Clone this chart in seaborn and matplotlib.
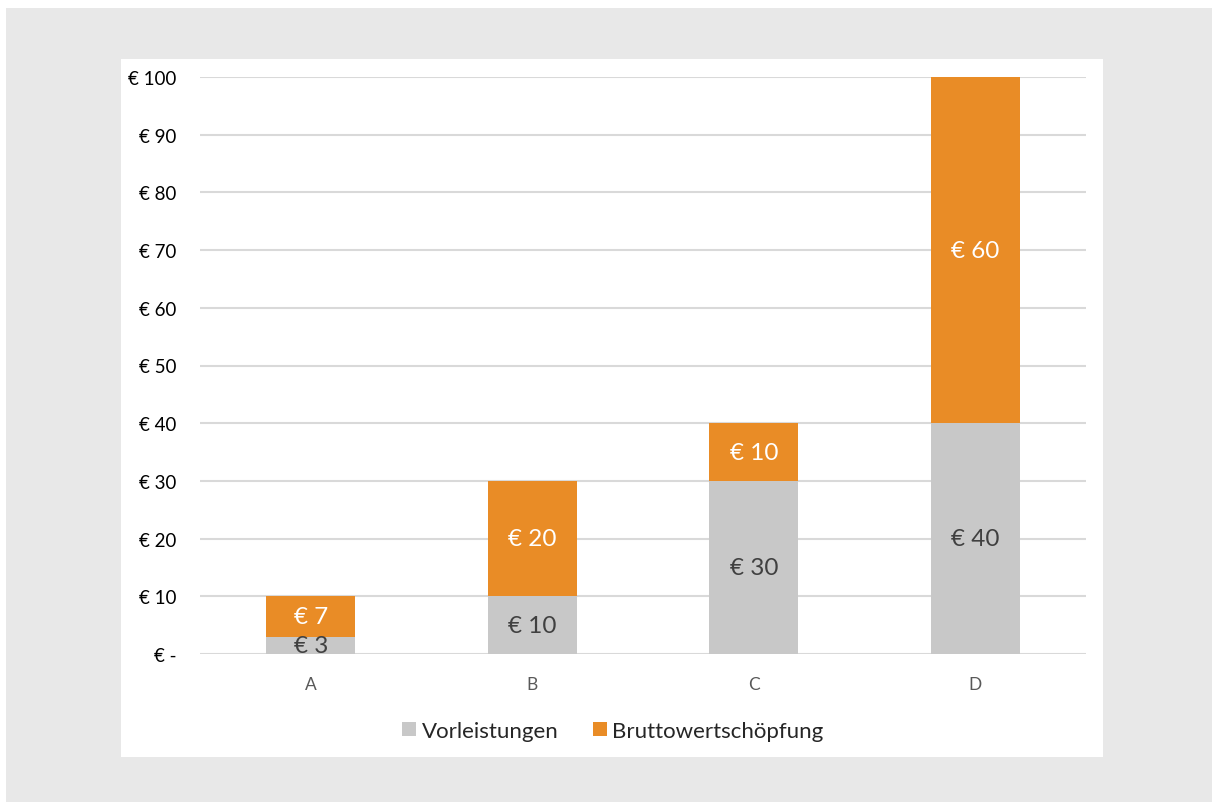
import matplotlib
matplotlib.use("Agg")
import matplotlib.pyplot as plt
import seaborn as sns
import pandas as pd
from matplotlib.patches import Rectangle, Patch

categories = ["A", "B", "C", "D"]
vorleistungen = [3, 10, 30, 40]
bruttowertschoepfung = [7, 20, 10, 60]
y_ticks = [0, 10, 20, 30, 40, 50, 60, 70, 80, 90, 100]
y_tick_labels = ["€ -", "€ 10", "€ 20", "€ 30", "€ 40", "€ 50", "€ 60", "€ 70", "€ 80", "€ 90", "€ 100"]
series_names = ["Vorleistungen", "Bruttowertschöpfung"]

GRAY = "#C8C8C8"
ORANGE = "#E98C26"
FONT = ["Lato", "DejaVu Sans"]

sns.set_theme(style="white")
plt.rcParams["font.family"] = FONT

W, H = 1212, 803
fig = plt.figure(figsize=(W / 100, H / 100), dpi=100, facecolor="white")
fig.add_artist(Rectangle((6 / W, 0), 1 - 6 / W, 1 - 9 / H, transform=fig.transFigure,
                         facecolor="#E8E8E8", edgecolor="none", zorder=-10))
fig.add_artist(Rectangle((121 / W, 1 - 758 / H), (1103 - 121) / W, (758 - 60) / H,
                         transform=fig.transFigure, facecolor="white", edgecolor="none", zorder=-9))

ax = fig.add_axes([200 / W, 1 - 655 / H, (1086 - 200) / W, (655 - 78) / H])
ax.set_facecolor("none")

df = pd.DataFrame({
    "cat": categories,
    "vor": vorleistungen,
    "brutto": bruttowertschoepfung,
})
df["total"] = df["vor"] + df["brutto"]

sns.barplot(data=df, x="cat", y="total", color=ORANGE, width=0.4, saturation=1, ax=ax,
            zorder=3, linewidth=0, edgecolor="none")
sns.barplot(data=df, x="cat", y="vor", color=GRAY, width=0.4, saturation=1, ax=ax,
            zorder=4, linewidth=0, edgecolor="none")

for i, (v, b) in enumerate(zip(vorleistungen, bruttowertschoepfung)):
    ax.text(i, v / 2, f"€ {v}", ha="center", va="center", color="#404040", fontsize=17.5, zorder=6)
    ax.text(i, v + b / 2, f"€ {b}", ha="center", va="center", color="white", fontsize=17.5, zorder=6)

ax.set_ylim(0, 100)
ax.set_xlim(-0.5, 3.5)
ax.set_yticks(y_ticks)
ax.set_yticklabels(y_tick_labels, fontsize=13.5, color="#000000")
ax.tick_params(axis="y", length=0, pad=17)
ax.tick_params(axis="x", length=0, pad=16, labelsize=12.5, labelcolor="#595959")
ax.set_xlabel("")
ax.set_ylabel("")
for t in ax.get_yticklabels():
    t.set_horizontalalignment("right")
for y in y_ticks:
    ax.axhline(y, color="#D9D9D9", lw=1.5, zorder=1)
for s in ax.spines.values():
    s.set_visible(False)
ax.grid(False)

handles = [Patch(facecolor=GRAY, edgecolor="none"), Patch(facecolor=ORANGE, edgecolor="none")]
fig.legend(handles, series_names, loc="center", bbox_to_anchor=(613 / W, 1 - 732 / H),
           ncol=2, frameon=False, fontsize=16, handlelength=0.63, handleheight=0.63,
           handletextpad=0.23, columnspacing=1.58, labelcolor="#262626")

fig.savefig("out.png", dpi=100, facecolor=fig.get_facecolor())
